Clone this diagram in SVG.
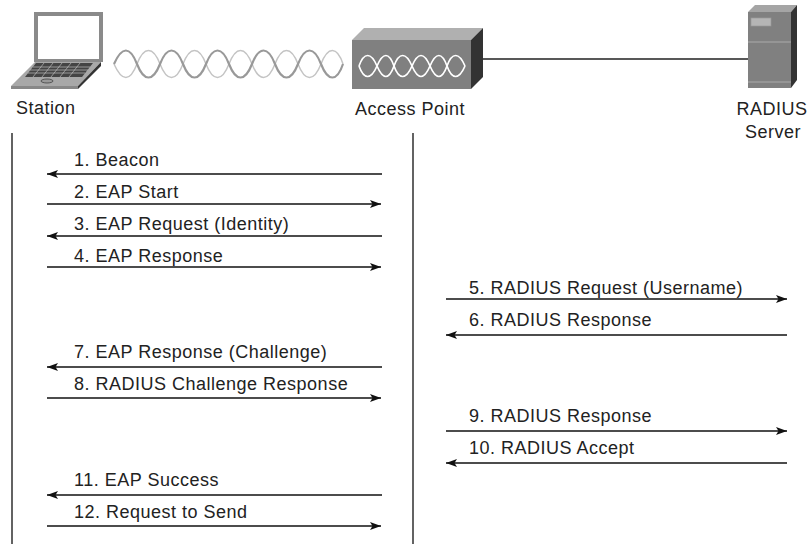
<svg xmlns="http://www.w3.org/2000/svg" width="812" height="545" viewBox="0 0 812 545">
<style>
text{font-family:"Liberation Sans",Arial,sans-serif;font-size:18px;letter-spacing:.5px;fill:#222}
.m{text-anchor:middle}
.l{stroke:#222;stroke-width:1.4;fill:none}
.a{stroke:#111;stroke-width:1.3;fill:none;marker-end:url(#h)}
.w1{fill:none;stroke:#999;stroke-width:2.2}
.w2{fill:none;stroke:#c4c4c4;stroke-width:1.5}
.w3{fill:none;stroke:#fff;stroke-width:1.7}
</style>
<defs>
<marker id="h" markerUnits="userSpaceOnUse" markerWidth="12" markerHeight="10" refX="11" refY="4" orient="auto" viewBox="0 0 12 8"><path d="M0 0L11 4L0 8L2.5 4Z" fill="#111"/></marker>
</defs>
<g id="station">
<path d="M34 12H103V62H34Z" fill="#8a8a8a"/>
<rect x="38" y="16" width="61" height="43" fill="#fff"/>
<path d="M35 62H101L78 86H11Z" fill="#a8a8a8"/>
<path d="M101 62V66L78 89V86Z" fill="#333"/>
<rect x="11" y="86" width="67" height="3" fill="#888"/>
<path d="M36 63H93L82 77H25Z" fill="#444"/>
<g stroke="#bbb" stroke-width=".7"><path d="M33 67H90M30 70H88M28 73H85"/><path d="M44 63L33 77M53 63L42 77M62 63L51 77M71 63L60 77M80 63L69 77"/></g>
<ellipse cx="47" cy="81" rx="6" ry="2" fill="#999" stroke="#333" stroke-width=".7"/>
<text x="16" y="114">Station</text>
</g>
<g id="wireless">
<path class="w2" d="M114 64C122 82 130 82 137 64S153 46 160 64S176 82 183 64S199 46 206 64S222 82 229 64S245 46 252 64S268 82 275 64S291 46 298 64S314 82 321 64S337 46 343 64"/>
<path class="w1" d="M114 64C122 46 130 46 137 64S153 82 160 64S176 46 183 64S199 82 206 64S222 46 229 64S245 82 252 64S268 46 275 64S291 82 298 64S314 46 321 64S337 82 343 64"/>
</g>
<g id="access-point">
<path d="M352 40L364 28H483L471 40Z" fill="#b0b0b0"/>
<rect x="352" y="40" width="119" height="49" fill="#808080"/>
<path d="M471 40L483 28V77L471 89Z" fill="#333"/>
<path class="w3" d="M359 66C364 52 371 52 377 66S389 80 394 66S406 52 412 66S424 80 430 66S442 52 447 66S459 80 465 66"/>
<path class="w3" d="M359 66C364 80 371 80 377 66S389 52 394 66S406 80 412 66S424 52 430 66S442 80 447 66S459 52 465 66"/>
<text x="410" y="115" class="m">Access Point</text>
</g>
<g id="radius-server">
<path d="M748 12L755 5H797L791 12Z" fill="#a5a5a5"/>
<rect x="748" y="12" width="43" height="76" fill="#808080"/>
<path d="M791 12L797 5V80L791 88Z" fill="#333"/>
<rect x="751" y="18" width="20" height="8" fill="#b5b5b5" stroke="#999" stroke-width=".7"/>
<path d="M748 42H791M748 82H791" stroke="#aaa" stroke-width="1"/>
<text x="772" y="115" class="m">RADIUS</text>
<text x="773" y="138" class="m">Server</text>
</g>
<g id="connectors">
<path class="l" d="M483 59H748M12 133V544M413 133V544"/>
<path class="a" d="M382 174H47"/>
<path class="a" d="M47 204H381"/>
<path class="a" d="M382 236H47"/>
<path class="a" d="M47 267H381"/>
<path class="a" d="M446 299H787"/>
<path class="a" d="M787 335H446"/>
<path class="a" d="M382 367H47"/>
<path class="a" d="M47 398H381"/>
<path class="a" d="M446 431H787"/>
<path class="a" d="M787 463H446"/>
<path class="a" d="M382 495H47"/>
<path class="a" d="M47 526H381"/>
</g>
<g id="labels">
<text x="74" y="166">1. Beacon</text>
<text x="74" y="198">2. EAP Start</text>
<text x="74" y="230">3. EAP Request (Identity)</text>
<text x="74" y="262">4. EAP Response</text>
<text x="469" y="294">5. RADIUS Request (Username)</text>
<text x="469" y="326">6. RADIUS Response</text>
<text x="74" y="358">7. EAP Response (Challenge)</text>
<text x="74" y="390">8. RADIUS Challenge Response</text>
<text x="469" y="422">9. RADIUS Response</text>
<text x="469" y="454">10. RADIUS Accept</text>
<text x="74" y="486">11. EAP Success</text>
<text x="74" y="518">12. Request to Send</text>
</g>
</svg>
